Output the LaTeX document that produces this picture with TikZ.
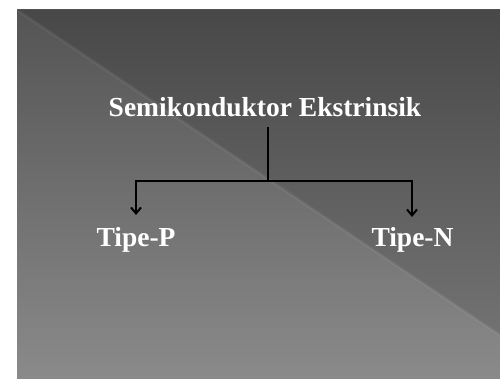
\documentclass[tikz,border=0pt]{standalone}
\usepackage{fontspec}
\setmainfont{Liberation Serif}
\usetikzlibrary{arrows.meta}
\definecolor{bgtop}{HTML}{545454}
\definecolor{bgbot}{HTML}{8A8A8A}
\definecolor{tritop}{HTML}{484848}
\definecolor{tribot}{HTML}{727272}
\tikzset{
  lbl/.style={anchor=base,text=white,font=\bfseries\fontsize{27.5}{32}\selectfont,inner sep=0pt},
  conn/.style={draw=black,line width=2pt},
  arr/.style={conn,-{Straight Barb[length=6pt,width=10pt,line width=2pt]}}
}
\begin{document}
\begin{tikzpicture}[x=1pt,y=-1pt]
\useasboundingbox (0,0) rectangle (500,379);
\fill[white] (0,0) rectangle (500,379);
\shade[top color=bgtop,bottom color=bgbot] (17,10) rectangle (500,379);
\shade[top color=tritop,bottom color=tribot] (17,10) -- (500,10) -- (500,335) -- cycle;
\draw[white,opacity=0.06,line width=3pt] (17,10) -- (500,335);
\node[lbl] (title) at (265,117) {Semikonduktor Ekstrinsik};
\node[lbl] (tp) at (136,246) {Tipe-P};
\node[lbl] (tn) at (412.5,246) {Tipe-N};
\coordinate (j) at (268,181);
\coordinate (lt) at (136,215);
\coordinate (rt) at (412,217);
\draw[conn] ([yshift=-9pt]title.south -| j) -- (j);
\draw[arr] (j) -| (lt);
\draw[arr] (j) -| (rt);
\end{tikzpicture}
\end{document}
